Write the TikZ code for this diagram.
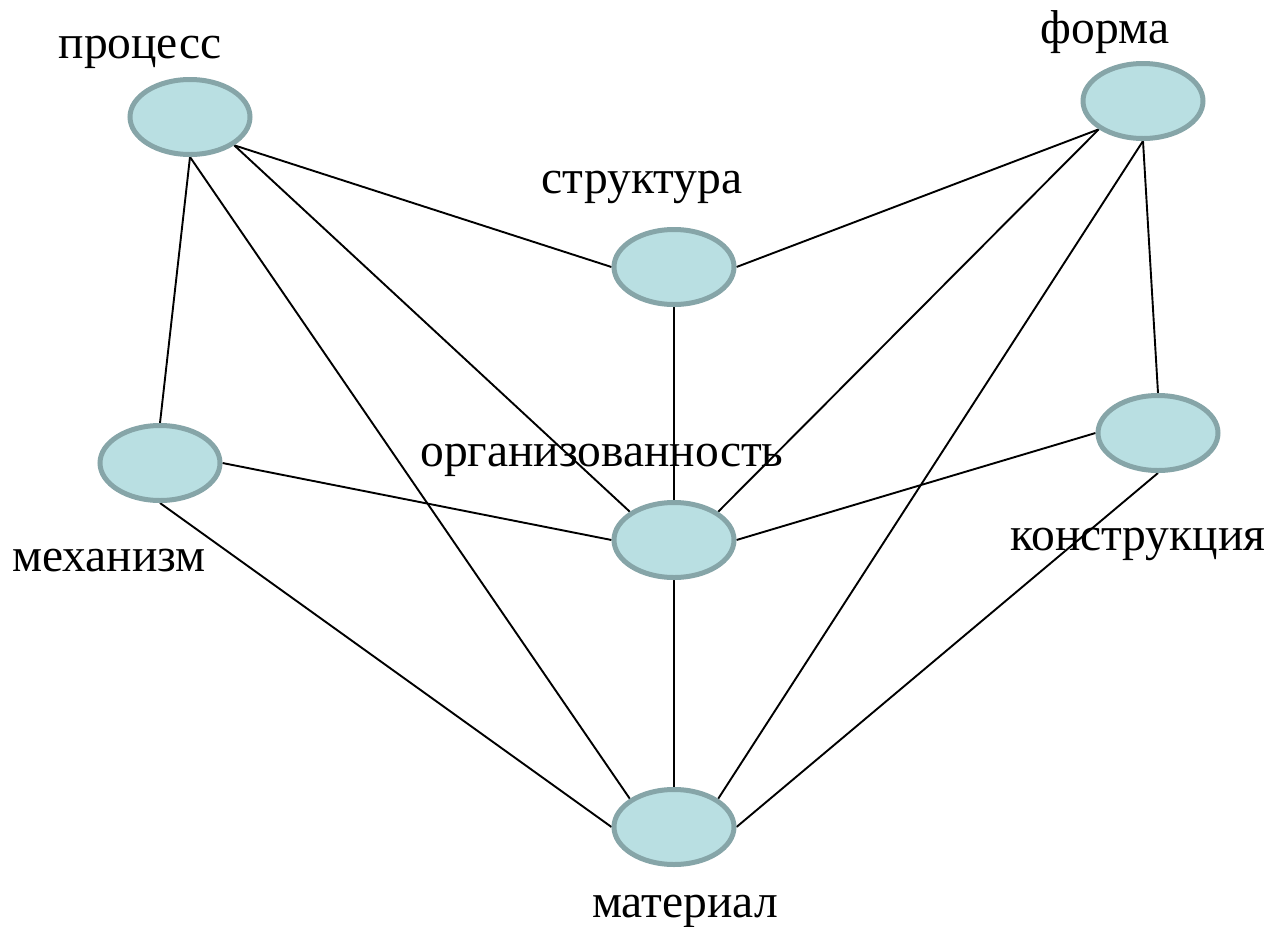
\documentclass[tikz,border=0pt]{standalone}
\usepackage{fontspec}
\setmainfont{Liberation Serif}
\usetikzlibrary{shapes.geometric,backgrounds}
\definecolor{ellfill}{HTML}{B9DFE2}
\definecolor{ellborder}{HTML}{86A5A8}
\tikzset{
  oval/.style={ellipse, fill=ellfill, draw=ellborder, line width=5pt, minimum width=120pt, minimum height=75pt, inner sep=0pt},
  lbl/.style={anchor=base, inner sep=0pt, font=\fontsize{47.5}{52}\selectfont},
  link/.style={draw=black, line width=1.9pt}
}
\begin{document}
\begin{tikzpicture}[x=1pt,y=-1pt]
\useasboundingbox (0,0) rectangle (1270,927);
\node[oval] (process) at (190,117) {};
\node[oval] (forma) at (1143,101) {};
\node[oval] (struct) at (674,267) {};
\node[oval] (mech) at (160,463) {};
\node[oval] (org) at (674,540) {};
\node[oval] (konstr) at (1158,433) {};
\node[oval] (mat) at (674,827) {};
\begin{scope}[on background layer]
\draw[link] (process.south) -- (mech.north);
\draw[link] (process.south) -- (mat.north west);
\draw[link] (process.south east) -- (org.north west);
\draw[link] (process.south east) -- (struct.west);
\draw[link] (forma.south west) -- (struct.east);
\draw[link] (forma.south west) -- (org.north east);
\draw[link] (forma.south) -- (mat.north east);
\draw[link] (forma.south) -- (konstr.north);
\draw[link] (struct.south) -- (org.north);
\draw[link] (mech.east) -- (org.west);
\draw[link] (konstr.west) -- (org.east);
\draw[link] (mech.south) -- (mat.west);
\draw[link] (konstr.south) -- (mat.east);
\draw[link] (org.south) -- (mat.north);
\end{scope}
\node[lbl] (tprocess) at (140,58) {процесс};
\node[lbl] (tforma) at (1105,43) {форма};
\node[lbl] (tstruct) at (642,193) {структура};
\node[lbl] (torg) at (602,466) {организованность};
\node[lbl] (tmech) at (109,571) {механизм};
\node[lbl] (tkonstr) at (1138,550) {конструкция};
\node[lbl] (tmat) at (685,917) {материал};
\end{tikzpicture}
\end{document}
